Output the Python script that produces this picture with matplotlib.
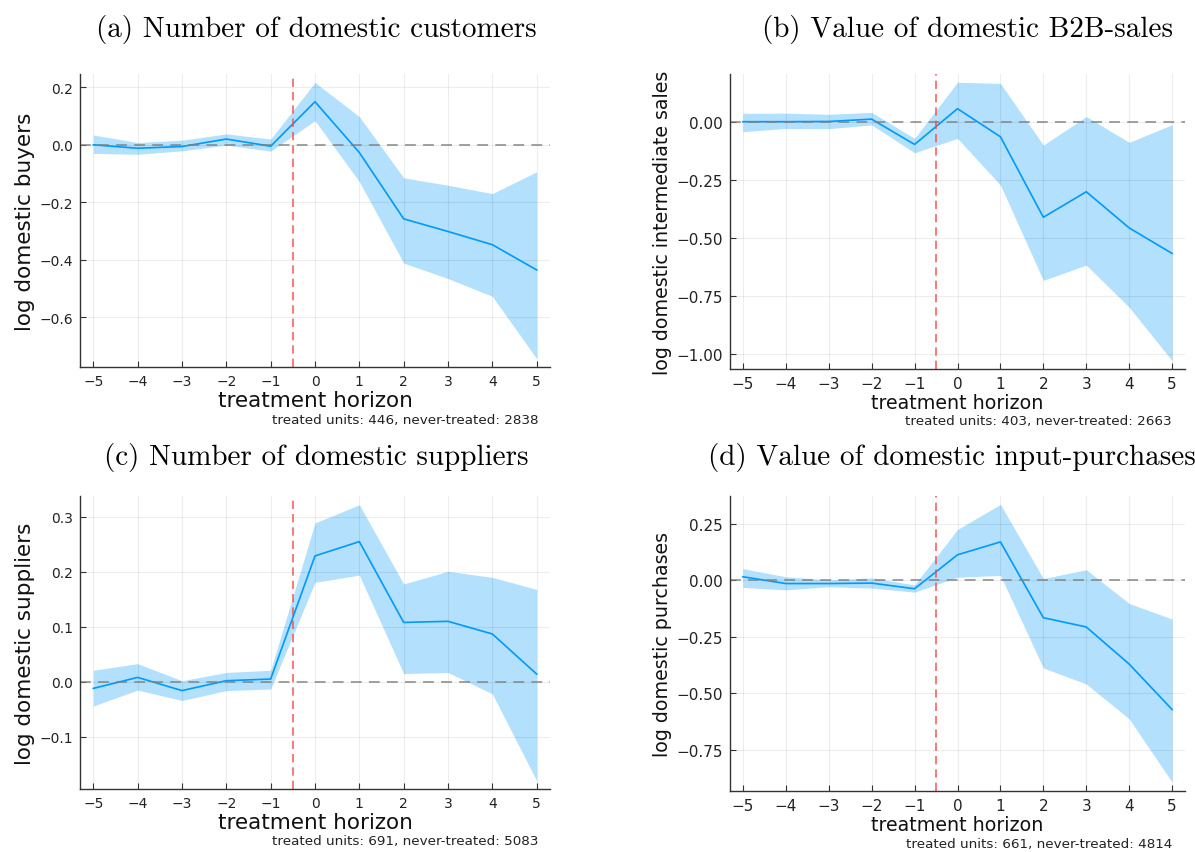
import numpy as np
import matplotlib
matplotlib.use("Agg")
import matplotlib.pyplot as plt

W, H = 1195, 853

# event-time horizon
horizon = [-5, -4, -3, -2, -1, 0, 1, 2, 3, 4, 5]

# (a) domestic buyers
buyers_est = [0.0, -0.012, -0.006, 0.020, -0.005, 0.150, -0.027, -0.258, -0.302, -0.348, -0.436]
buyers_hi = [0.034, 0.008, 0.016, 0.038, 0.020, 0.217, 0.098, -0.115, -0.141, -0.170, -0.094]
buyers_lo = [-0.030, -0.033, -0.021, -0.001, -0.022, 0.084, -0.128, -0.412, -0.466, -0.528, -0.745]

# (b) domestic intermediate sales
sales_est = [0.0, 0.0, 0.001, 0.011, -0.098, 0.056, -0.065, -0.412, -0.302, -0.458, -0.568]
sales_hi = [0.036, 0.037, 0.032, 0.040, -0.072, 0.170, 0.165, -0.101, 0.022, -0.089, -0.013]
sales_lo = [-0.043, -0.029, -0.030, -0.014, -0.134, -0.072, -0.273, -0.684, -0.618, -0.800, -1.030]

# (c) domestic suppliers
suppl_est = [-0.012, 0.008, -0.016, 0.002, 0.005, 0.229, 0.255, 0.108, 0.110, 0.087, 0.014]
suppl_hi = [0.021, 0.033, 0.002, 0.017, 0.021, 0.289, 0.322, 0.178, 0.201, 0.190, 0.168]
suppl_lo = [-0.044, -0.015, -0.034, -0.016, -0.013, 0.181, 0.194, 0.015, 0.017, -0.022, -0.180]

# (d) domestic purchases
purch_est = [0.015, -0.015, -0.015, -0.013, -0.038, 0.112, 0.169, -0.166, -0.207, -0.371, -0.572]
purch_hi = [0.051, 0.015, 0.001, 0.010, -0.021, 0.224, 0.335, 0.007, 0.046, -0.103, -0.172]
purch_lo = [-0.032, -0.043, -0.029, -0.035, -0.053, 0.013, 0.021, -0.388, -0.459, -0.613, -0.893]

titles = ["(a) Number of domestic customers", "(b) Value of domestic B2B-sales",
          "(c) Number of domestic suppliers", "(d) Value of domestic input-purchases"]
ylabels = ["log domestic buyers", "log domestic intermediate sales",
           "log domestic suppliers", "log domestic purchases"]
notes = ["treated units: 446, never-treated: 2838", "treated units: 403, never-treated: 2663",
         "treated units: 691, never-treated: 5083", "treated units: 661, never-treated: 4814"]
yticks = [[0.2, 0.0, -0.2, -0.4, -0.6],
          [0.0, -0.25, -0.5, -0.75, -1.0],
          [0.3, 0.2, 0.1, 0.0, -0.1],
          [0.25, 0.0, -0.25, -0.5, -0.75]]
ylims = [(-0.774, 0.2466), (-1.066, 0.2056), (-0.195, 0.338), (-0.932, 0.372)]

series = [(buyers_est, buyers_lo, buyers_hi), (sales_est, sales_lo, sales_hi),
          (suppl_est, suppl_lo, suppl_hi), (purch_est, purch_lo, purch_hi)]

# pixel boxes: left, top, right, bottom
boxes = [(80, 75, 550, 368), (730, 75, 1185, 370), (80, 497, 550, 790), (730, 497, 1185, 792)]
yfmt = ["{:.1f}", "{:.2f}", "{:.1f}", "{:.2f}"]
lab_size = [15.5, 13.7, 15.5, 13.7]
tick_size = [10, 11, 10, 11]
title_pos = [(316, 29), (968, 29), (316, 457), (952, 457)]
note_pos = [(538, 421), (1172, 422), (538, 842), (1172, 845)]

blue = "#009AFA"

fig = plt.figure(figsize=(W / 100, H / 100), dpi=100)

for i in range(4):
    l, t, r, b = boxes[i]
    ax = fig.add_axes([l / W, 1 - b / H, (r - l) / W, (b - t) / H])
    est, lo, hi = series[i]
    ax.fill_between(horizon, lo, hi, color=blue, alpha=0.3, linewidth=0)
    ax.plot(horizon, est, color=blue, lw=1.2)
    ax.axhline(0, color="gray", ls=(0, (6, 4)), lw=1.3, alpha=0.8)
    ax.axvline(-0.5, color="#ff4545", ls=(0, (5, 3)), lw=1.2, alpha=0.85)

    ax.set_xlim(-5.3, 5.3)
    ax.set_ylim(*ylims[i])
    ax.set_xticks(horizon)
    ax.set_xticklabels([str(h).replace("-", "\u2212") for h in horizon])
    ax.set_yticks(yticks[i])
    ax.set_yticklabels([yfmt[i].format(v).replace("-", "\u2212") for v in yticks[i]])
    ax.grid(True, color="black", alpha=0.07, lw=0.8)
    for s in ["top", "right"]:
        ax.spines[s].set_visible(False)
    for s in ["left", "bottom"]:
        ax.spines[s].set_color("#333333")
        ax.spines[s].set_linewidth(1.0)
    ax.tick_params(direction="in", length=4, width=0.8, color="#333333",
                   labelsize=tick_size[i], labelcolor="#222222", pad=5)
    ax.set_xlabel("treatment horizon", fontsize=lab_size[i], labelpad=1.5, color="#111111")
    ax.set_ylabel(ylabels[i], fontsize=lab_size[i], color="#111111", labelpad=3)

    fig.text(title_pos[i][0] / W, 1 - title_pos[i][1] / H, titles[i],
             fontfamily="cmr10", fontsize=21, ha="center", va="center")
    fig.text(note_pos[i][0] / W, 1 - note_pos[i][1] / H, notes[i],
             fontsize=9.7, ha="right", va="center", color="#222222")

fig.savefig("out.png", dpi=100)
